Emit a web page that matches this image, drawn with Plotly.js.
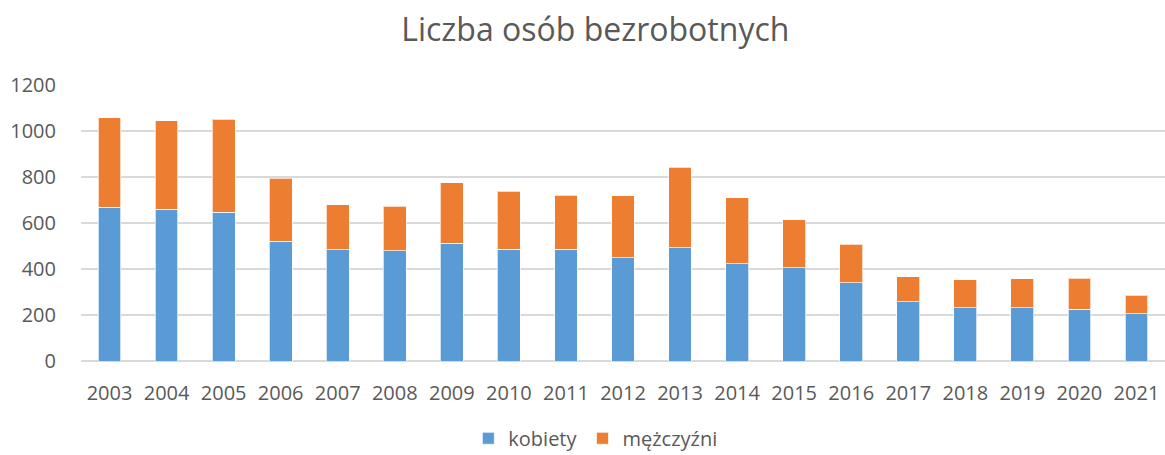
<!DOCTYPE html>
<html>
<head>
<meta charset="utf-8">
<script src="https://cdn.plot.ly/plotly-3.0.1.min.js"></script>
<style>
html,body{margin:0;padding:0;background:#fff;}
#chart{width:1165px;height:455px;}
</style>
</head>
<body>
<div id="chart"></div>
<script>
const years = ["2003","2004","2005","2006","2007","2008","2009","2010","2011","2012","2013","2014","2015","2016","2017","2018","2019","2020","2021"];
const kobiety = [669,659,647,520,483,480,511,485,485,450,493,422,406,340,258,232,231,224,205];
const mezczyzni = [388,386,405,275,196,192,265,254,236,268,350,288,208,168,109,121,126,136,81];
const seriesNames = ["kobiety","mężczyźni"];
const yTicks = [0,200,400,600,800,1000,1200];

const fontFam = '"Open Sans", "Noto Sans", sans-serif';
const traces = [
  {type:'bar', name:seriesNames[0], x:years, y:kobiety,
   marker:{color:'#5B9BD5', line:{color:'rgba(255,255,255,0.7)', width:1}}},
  {type:'bar', name:seriesNames[1], x:years, y:mezczyzni,
   marker:{color:'#ED7D31', line:{color:'rgba(255,255,255,0.7)', width:1}}}
];
const layout = {
  width:1165, height:455,
  barmode:'stack', bargap:0.6,
  paper_bgcolor:'#fff', plot_bgcolor:'#fff',
  margin:{l:81, r:0, t:85, b:94, autoexpand:false},
  font:{family:fontFam, color:'#595959', size:20},
  title:{text:'Liczba osób bezrobotnych', font:{family:fontFam, size:32, color:'#595959'},
         x:0.511, xanchor:'center', xref:'container', yref:'container', y:0.934, yanchor:'middle'},
  xaxis:{type:'category', tickfont:{size:20, color:'#595959'}, showgrid:false, automargin:false,
         ticks:'outside', ticklen:14, tickcolor:'rgba(0,0,0,0)', showline:false, zeroline:false},
  yaxis:{range:[0,1200], tickvals:yTicks, ticktext:yTicks.map(String), automargin:false,
         tickfont:{size:20, color:'#595959'}, showgrid:true, gridcolor:'#d9d9d9', gridwidth:1.5,
         zeroline:true, zerolinecolor:'#d9d9d9', zerolinewidth:1.5,
         ticks:'outside', ticklen:20, tickcolor:'rgba(0,0,0,0)', showline:false},
  showlegend:true,
  legend:{orientation:'h', x:0.511, xref:'container', xanchor:'center', y:-0.28, yanchor:'middle',
          font:{size:20, color:'#595959'}, traceorder:'normal', itemwidth:30}
};
Plotly.newPlot('chart', traces, layout, {staticPlot:true, displayModeBar:false});
</script>
</body>
</html>
